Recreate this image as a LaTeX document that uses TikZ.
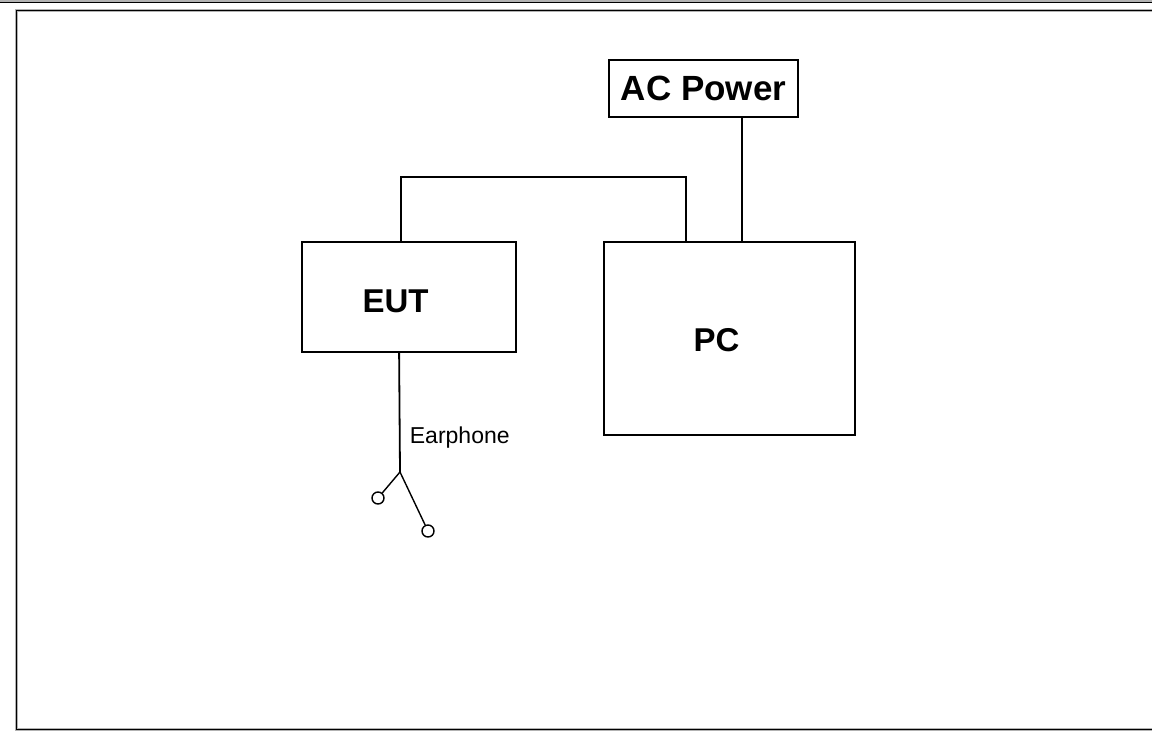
\documentclass[tikz,border=0pt]{standalone}
\usepackage{fontspec}
\setmainfont{Liberation Sans}
\usepackage{tikz}
\definecolor{framegray}{rgb}{0.7,0.7,0.7}

\begin{document}
\begin{tikzpicture}[x=1pt, y=-1pt, line width=1.8pt,
    unit/.style={draw, rectangle, inner sep=0pt},
    bigtext/.style={font=\bfseries\fontsize{33}{38}\selectfont},
    ear/.style={draw, circle, inner sep=0pt, minimum size=12pt, line width=1.4pt}]
      \useasboundingbox (0,0) rectangle (1152,731);
      \fill[framegray] (0,0) rectangle (1152,2);
      \draw[line width=1.3pt] (0,2.8) -- (1152,2.8);
      \draw[framegray, line width=3.2pt] (16.5,10.5) rectangle (1170,729.5);
      \draw[line width=1.6pt] (16.5,10.5) rectangle (1170,729.5);
      \node[unit, minimum width=214pt, minimum height=110pt] (eut) at (409,297) {};
      \node[unit, minimum width=251pt, minimum height=193pt] (pc) at (729.5,338.5) {};
      \node[unit, minimum width=189pt, minimum height=57pt, font=\bfseries\fontsize{35}{38}\selectfont] (ac) at (703.5,88.5) {AC Power};
      \node[bigtext] (eutname) at (395.5,301.5) {EUT};
      \node[bigtext] (pcname) at (716.5,340) {PC};
      \draw ([xshift=100pt]eut.north west) -- ++(0,-64) -| ([xshift=83pt]pc.north west);
      \draw ([xshift=139pt]pc.north west) -- ([xshift=139pt]pc.north west |- ac.south);
      \coordinate (jack) at (400,472);
      \node[ear] (earl) at (378,498) {};
      \node[ear] (earr) at (428,531) {};
      \draw ([xshift=98pt]eut.south west) -- (jack);
      \draw[line width=1.4pt] (jack) -- (earl);
      \draw[line width=1.4pt] (jack) -- (earr);
      \node[anchor=base west, font=\fontsize{23}{26}\selectfont, inner sep=0pt] (earlabel) at (409,443) {Earphone};
    \end{tikzpicture}
\end{document}
